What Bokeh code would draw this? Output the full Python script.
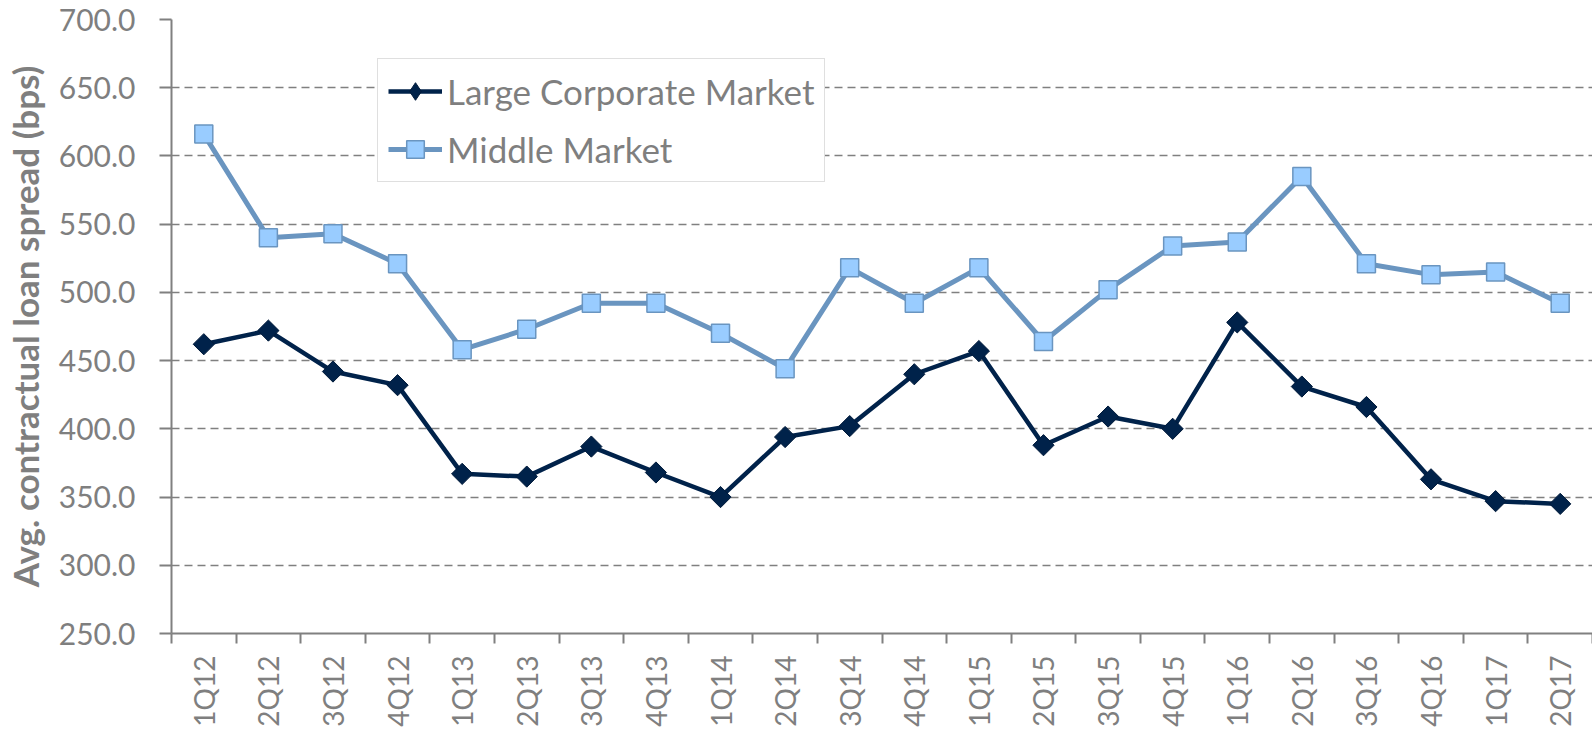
import numpy as np
from bokeh.plotting import figure
from bokeh.models import (Range1d, FixedTicker, Legend, LegendItem, CustomJSTickFormatter)
from bokeh.embed import file_html
from bokeh.resources import INLINE

quarters = ["1Q12", "2Q12", "3Q12", "4Q12", "1Q13", "2Q13", "3Q13", "4Q13",
            "1Q14", "2Q14", "3Q14", "4Q14", "1Q15", "2Q15", "3Q15", "4Q15",
            "1Q16", "2Q16", "3Q16", "4Q16", "1Q17", "2Q17"]
large_corporate = [462, 472, 442, 432, 367, 365, 387, 368,
                   350, 394, 402, 440, 457, 388, 409, 400,
                   478, 431, 416, 363, 347, 345]
middle_market = [616, 540, 543, 521, 458, 473, 492, 492,
                 470, 444, 518, 492, 518, 464, 502, 534,
                 537, 585, 521, 513, 515, 492]
y_ticks = [250, 300, 350, 400, 450, 500, 550, 600, 650, 700]

FONT = "Lato"
GRAY = "#7f7f7f"
n = len(quarters)
x = np.arange(n) + 0.5

p = figure(width=1592, height=729, output_backend="svg", toolbar_location=None,
           x_range=Range1d(0, n), y_range=Range1d(250, 700),
           min_border_left=170, min_border_right=0, min_border_top=19,
           min_border_bottom=90)
p.outline_line_color = None
p.background_fill_color = "white"

# grid
p.xgrid.grid_line_color = None
p.ygrid.grid_line_color = "#808080"
p.ygrid.grid_line_width = 1.5
p.ygrid.grid_line_dash = "8 5"

# y axis
p.yaxis.ticker = FixedTicker(ticks=y_ticks)
p.yaxis.formatter = CustomJSTickFormatter(code="return tick.toFixed(1);")
p.yaxis.axis_label = "Avg. contractual loan spread (bps)"
p.yaxis.axis_label_text_font = FONT
p.yaxis.axis_label_text_font_style = "bold"
p.yaxis.axis_label_text_font_size = "35px"
p.yaxis.axis_label_text_color = GRAY
p.yaxis.axis_label_standoff = 10
p.yaxis.major_label_text_font = FONT
p.yaxis.major_label_text_font_size = "30px"
p.yaxis.major_label_text_color = GRAY
p.yaxis.major_label_standoff = 24
p.yaxis.axis_line_color = "#808080"
p.yaxis.axis_line_width = 2
p.yaxis.major_tick_line_color = "#808080"
p.yaxis.major_tick_line_width = 2
p.yaxis.major_tick_out = 12
p.yaxis.major_tick_in = 0
p.yaxis.minor_tick_line_color = None

# x axis: labels at centres, ticks at boundaries
p.xaxis.ticker = FixedTicker(ticks=list(x), minor_ticks=list(range(n + 1)))
p.xaxis.major_label_overrides = {float(v): q for v, q in zip(x, quarters)}
p.xaxis.major_label_orientation = np.pi / 2
p.xaxis.major_label_text_font = FONT
p.xaxis.major_label_text_font_size = "28px"
p.xaxis.major_label_text_color = GRAY
p.xaxis.major_label_standoff = 12
p.xaxis.major_tick_line_color = None
p.xaxis.minor_tick_line_color = "#808080"
p.xaxis.minor_tick_line_width = 2
p.xaxis.minor_tick_out = 10
p.xaxis.minor_tick_in = 0
p.xaxis.axis_line_color = "#808080"
p.xaxis.axis_line_width = 2

# series
mm_line = p.line(x, middle_market, line_color="#6a95c0", line_width=5)
mm_pts = p.scatter(x, middle_market, marker="square", size=18,
                   fill_color="#99ccff", line_color="#6a95c0", line_width=1.5)
lc_line = p.line(x, large_corporate, line_color="#00224a", line_width=4.5)
lc_pts = p.scatter(x, large_corporate, marker="square", size=15, angle=np.pi / 4,
                   fill_color="#00224a", line_color="#001a3a", line_width=1)
# legend-only marker (diamond shape for the key), not drawn in the plot
lc_key = p.scatter([np.nan], [np.nan], marker="diamond", size=18,
                   fill_color="#00224a", line_color="#001a3a", line_width=1)

legend = Legend(items=[
    LegendItem(label="Large Corporate Market", renderers=[lc_line, lc_key]),
    LegendItem(label="Middle Market", renderers=[mm_line, mm_pts]),
], location=(206, 451))
legend.label_text_font = FONT
legend.label_text_font_size = "35px"
legend.label_text_color = GRAY
legend.glyph_width = 54
legend.glyph_height = 44
legend.label_height = 44
legend.label_standoff = 5
legend.spacing = 14
legend.padding = 10
legend.margin = 0
legend.border_line_color = "#c0c0c0"
legend.border_line_width = 1.5
legend.background_fill_color = "white"
legend.background_fill_alpha = 1
p.add_layout(legend, "center")

open("out.html", "w").write(file_html(p, INLINE))
